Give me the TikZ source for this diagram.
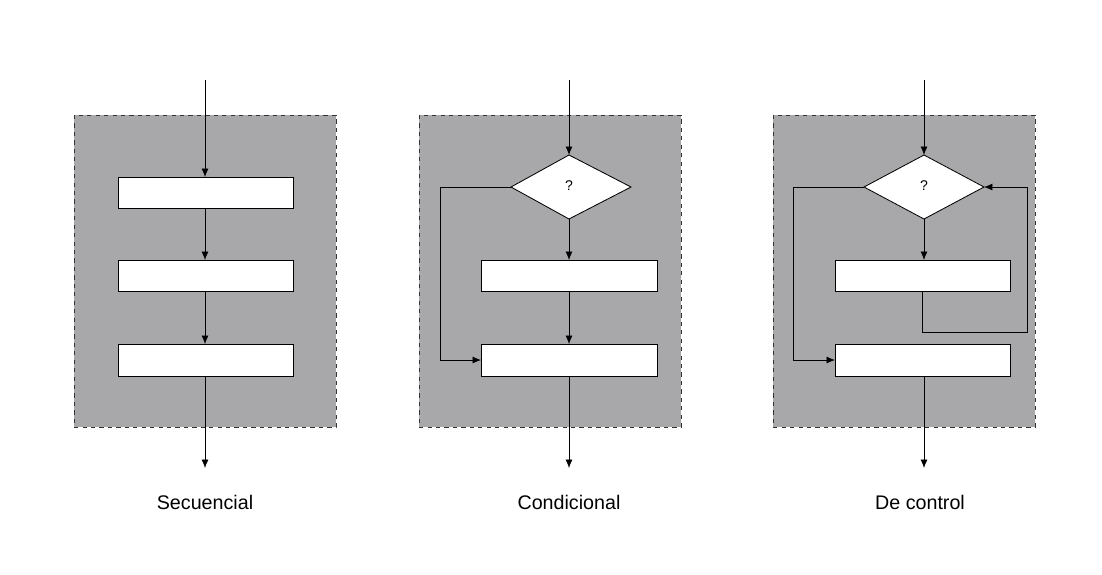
\documentclass[tikz,border=0pt]{standalone}
\usepackage{fontspec}
\setmainfont{Liberation Sans}
\usetikzlibrary{shapes.geometric,arrows.meta}
\definecolor{pan}{HTML}{A8A8AA}
\begin{document}
\begin{tikzpicture}[x=0.025cm,y=-0.025cm,
  panel/.style={draw=black!80,dashed,fill=pan,line width=0.6pt},
  box/.style={draw=black,fill=white,line width=0.6pt},
  ar/.style={-{Latex[length=6pt,width=5pt]},line width=0.6pt},
  ln/.style={line width=0.6pt},
  lab/.style={font=\fontsize{14}{16}\selectfont}]
\useasboundingbox (0,0) rectangle (1102,574);
% panel 1
\draw[panel] (74,115) rectangle (336,427);
\draw[box] (118,177) rectangle (293,208); \coordinate (a1t) at (205,177); \coordinate (a1b) at (205,208);
\draw[box] (118,260) rectangle (293,291); \coordinate (a2t) at (205,260); \coordinate (a2b) at (205,291);
\draw[box] (118,344) rectangle (293,376); \coordinate (a3t) at (205,344); \coordinate (a3b) at (205,376);
\coordinate (a0) at (205,80); \coordinate (a4) at (205,468);
\draw[ar] (a0)--(a1t); \draw[ar] (a1b)--(a2t); \draw[ar] (a2b)--(a3t); \draw[ar] (a3b)--(a4);
\node[lab] (l1) at (205,502) {Secuencial};
% panel 2
\draw[panel] (419,115) rectangle (681,427);
\draw[box] (511,187)--(569,155)--(631,187)--(569,219)--cycle;
\node (q2) at (569,186) {?};
\coordinate (d2t) at (569,155); \coordinate (d2b) at (569,219); \coordinate (d2l) at (511,187);
\draw[box] (481,260) rectangle (657,291); \coordinate (b1t) at (569,260); \coordinate (b1b) at (569,291);
\draw[box] (481,344) rectangle (657,376); \coordinate (b2t) at (569,344); \coordinate (b2b) at (569,376); \coordinate (b2l) at (481,360);
\coordinate (b0) at (569,80); \coordinate (b4) at (569,468);
\draw[ar] (b0)--(d2t); \draw[ar] (d2b)--(b1t); \draw[ar] (b1b)--(b2t); \draw[ar] (b2b)--(b4);
\draw[ar] (d2l)--(440,187)--(440,360)--(b2l);
\node[lab] (l2) at (569,502) {Condicional};
% panel 3
\draw[panel] (773,115) rectangle (1035,427);
\draw[box] (864,187)--(924,155)--(984,187)--(924,219)--cycle;
\node (q3) at (924,186) {?};
\coordinate (d3t) at (924,155); \coordinate (d3b) at (924,219); \coordinate (d3l) at (864,187); \coordinate (d3r) at (984,187);
\draw[box] (835,260) rectangle (1010,291); \coordinate (c1t) at (924,260); \coordinate (c1b) at (922,291);
\draw[box] (835,344) rectangle (1010,376); \coordinate (c2b) at (924,376); \coordinate (c2l) at (835,360);
\coordinate (c0) at (924,80); \coordinate (c4) at (924,468);
\draw[ar] (c0)--(d3t); \draw[ar] (d3b)--(c1t); \draw[ar] (c2b)--(c4);
\draw[ar] (c1b)--(922,332)--(1027,332)--(1027,187)--(d3r);
\draw[ar] (d3l)--(793,187)--(793,360)--(c2l);
\node[lab] (l3) at (920,502) {De control};
\end{tikzpicture}
\end{document}
